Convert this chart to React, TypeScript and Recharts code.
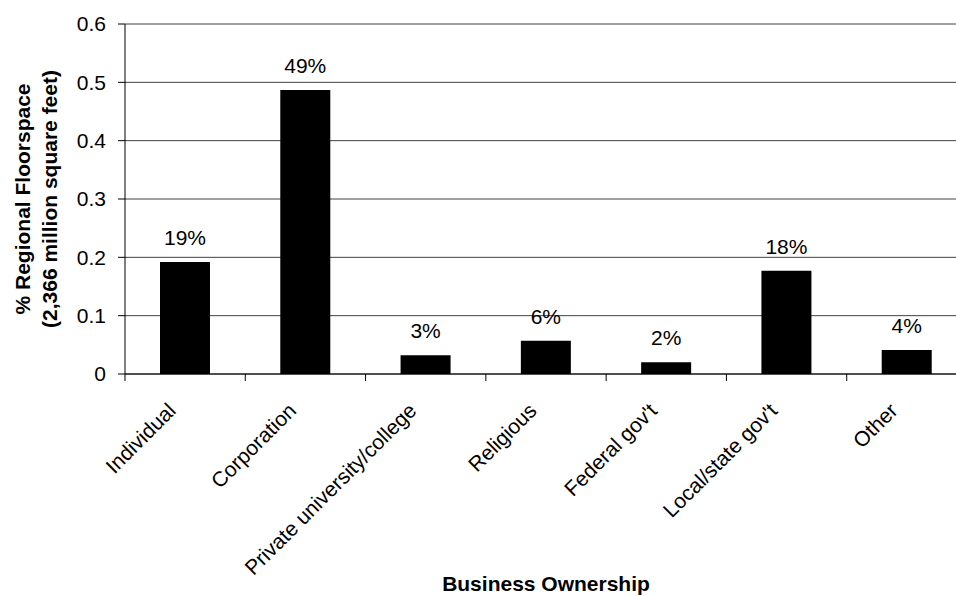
import React from "react";
import { BarChart, Bar, XAxis, YAxis, CartesianGrid, LabelList, Label } from "recharts";

const owners = [
  "Individual",
  "Corporation",
  "Private university/college",
  "Religious",
  "Federal gov't",
  "Local/state gov't",
  "Other",
];
const floorShare = [0.192, 0.487, 0.032, 0.057, 0.02, 0.177, 0.041];
const yTicks = [0, 0.1, 0.2, 0.3, 0.4, 0.5, 0.6];

const data = owners.map((name, i) => ({ name, share: floorShare[i] }));

const FONT = "'Liberation Sans', Arial, sans-serif";
const PLOT_LEFT = 125;
const PLOT_WIDTH = 842;
const AXIS_Y = 374;
const BAND = PLOT_WIDTH / owners.length;

// rotated category name plus the boundary tick marks Excel-style
const OwnerTick = (props: any) => {
  const { x, payload, index } = props;
  const half = payload && payload.offset ? payload.offset : BAND / 2;
  const left = x - half;
  const right = x + half;
  const tx = x - 8;
  const ty = AXIS_Y + 38;
  return (
    <g>
      <line x1={left} x2={left} y1={AXIS_Y} y2={AXIS_Y + 7} stroke="#000" />
      {index === owners.length - 1 && (
        <line x1={right} x2={right} y1={AXIS_Y} y2={AXIS_Y + 7} stroke="#000" />
      )}
      <text
        x={tx}
        y={ty}
        textAnchor="end"
        transform={`rotate(-45, ${tx}, ${ty})`}
        fontFamily={FONT}
        fontSize={21}
        fill="#000"
      >
        {payload.value}
      </text>
    </g>
  );
};

const YTitle = () => (
  <g fontFamily={FONT} fontSize={21} fontWeight="bold" fill="#000">
    <text x={30} y={199} textAnchor="middle" transform="rotate(-90, 30, 199)">
      % Regional Floorspace
    </text>
    <text x={57} y={199} textAnchor="middle" transform="rotate(-90, 57, 199)">
      (2,366 million square feet)
    </text>
  </g>
);

export default function App() {
  return (
    <div
      style={{
        position: "absolute",
        left: 0,
        top: 0,
        width: 956,
        height: 596,
        overflow: "hidden",
        background: "#fff",
      }}
    >
      <BarChart
        width={980}
        height={596}
        data={data}
        margin={{ top: 24, right: 980 - PLOT_LEFT - PLOT_WIDTH, bottom: 0, left: 0 }}
        barSize={50}
      >
        <CartesianGrid vertical={false} stroke="#404040" />
        <XAxis
          dataKey="name"
          height={596 - AXIS_Y}
          interval={0}
          tickLine={false}
          tickSize={0}
          tickMargin={0}
          axisLine={{ stroke: "#000" }}
          tick={<OwnerTick />}
        >
          <Label
            value="Business Ownership"
            position="insideBottom"
            offset={5}
            style={{ fontFamily: FONT, fontSize: 21, fontWeight: "bold", fill: "#000" }}
          />
        </XAxis>
        <YAxis
          width={PLOT_LEFT}
          domain={[0, 0.6]}
          ticks={yTicks}
          interval={0}
          tickSize={7}
          tickMargin={12}
          axisLine={{ stroke: "#000" }}
          tickLine={{ stroke: "#000" }}
          tick={{ fontFamily: FONT, fontSize: 21, fill: "#000" }}
          tickFormatter={(v: number) => String(v)}
          label={<YTitle />}
        />
        <Bar dataKey="share" fill="#000" isAnimationActive={false}>
          <LabelList
            dataKey="share"
            position="top"
            offset={17}
            formatter={(v: any) => `${Math.round(Number(v) * 100)}%`}
            style={{ fontFamily: FONT, fontSize: 21, fill: "#000" }}
          />
        </Bar>
      </BarChart>
    </div>
  );
}
